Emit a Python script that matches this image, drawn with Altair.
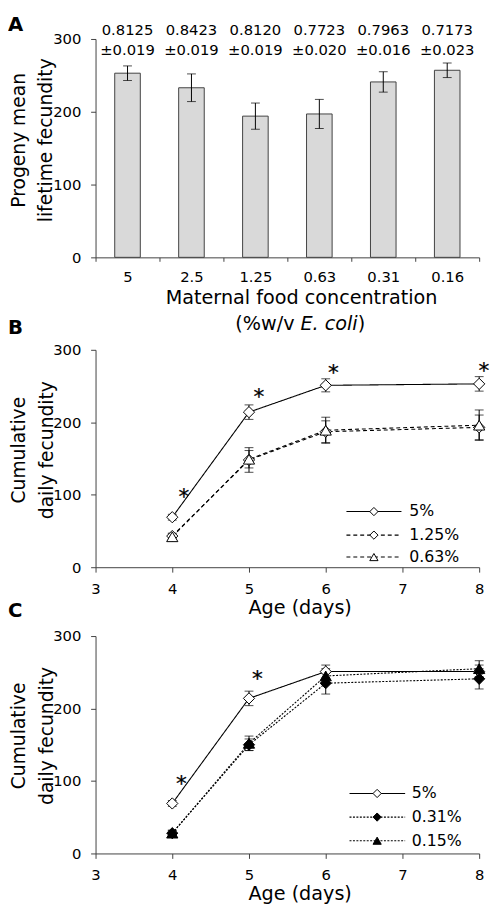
import altair as alt
import pandas as pd

FONT = "DejaVu Sans"
AXIS_COLOR = "#404040"

# ---------------- Panel A data ----------------
concentrations = ["5", "2.5", "1.25", "0.63", "0.31", "0.16"]
lifetime_fecundity = [253, 233, 194, 197, 241, 257]
lifetime_fecundity_se = [10, 19, 18, 20, 14, 10]
survival_mean = ["0.8125", "0.8423", "0.8120", "0.7723", "0.7963", "0.7173"]
survival_se = ["±0.019", "±0.019", "±0.019", "±0.020", "±0.016", "±0.023"]

# ---------------- Panel B data ----------------
ages = [4, 5, 6, 8]
b_series = ["5%", "1.25%", "0.63%"]
b_5 = [69, 214, 251, 253]
b_5_se = [4, 10, 9, 10]
b_125 = [43, 148, 187, 193]
b_125_se = [4, 17, 15, 17]
b_063 = [42, 149, 189, 196]
b_063_se = [4, 12, 18, 21]
b_star_age = [4.15, 5.13, 6.10, 8.06]
b_star_val = [103, 241, 275, 278]

# ---------------- Panel C data ----------------
c_series = ["5%", "0.31%", "0.15%"]
c_5 = [69, 214, 251, 251]
c_5_se = [4, 10, 9, 9]
c_031 = [28, 150, 235, 241]
c_031_se = [4, 8, 15, 14]
c_015 = [28, 152, 245, 255]
c_015_se = [4, 10, 10, 11]
c_star_age = [4.12, 5.11]
c_star_val = [103, 247]

# legend placement (in data units of the panels)
b_leg_x = [6.27, 6.987, 6.628, 7.09]
b_leg_y = [76.8, 44.3, 14.0]
c_leg_x = [6.31, 7.035, 6.67, 7.12]
c_leg_y = [82.8, 50.2, 17.6]


def axis_common(**kw):
    base = dict(
        domainColor=AXIS_COLOR, tickColor=AXIS_COLOR, labelColor="black",
        labelFont=FONT, labelFontSize=15, titleFont=FONT, titleColor="black",
        titleFontWeight="normal", grid=False, labelFlush=False,
        labelOverlap=False, labelBound=False,
    )
    base.update(kw)
    return alt.Axis(**base)


# ================= Panel A =================
dfA = pd.DataFrame({
    "conc": concentrations,
    "mean": lifetime_fecundity,
    "lo": [m - e for m, e in zip(lifetime_fecundity, lifetime_fecundity_se)],
    "hi": [m + e for m, e in zip(lifetime_fecundity, lifetime_fecundity_se)],
    "a1": survival_mean,
    "a2": survival_se,
})

xA_axis = axis_common(labelAngle=0, tickBand="extent", tickSize=4, labelPadding=8.6,
                      title="Maternal food concentration", titleX=209, titleY=41,
                      titleBaseline="middle", titleAlign="center", titleFontSize=19.5)
yA_axis = axis_common(values=[0, 100, 200, 300], tickSize=5, labelPadding=10,
                      title=["Progeny mean", "lifetime fecundity"], titleX=-87, titleY=102.5,
                      titleAngle=270, titleBaseline="top", titleAlign="center",
                      titleFontSize=19, titleLineHeight=27)
xA_scale = alt.Scale(domain=concentrations, paddingInner=0, paddingOuter=0)
yA_scale = alt.Scale(domain=[0, 300], nice=False)


def XA():
    return alt.X("conc:N", sort=concentrations, scale=xA_scale, axis=xA_axis)


def YA(f):
    return alt.Y(f, type="quantitative", scale=yA_scale, axis=yA_axis)


baseA = alt.Chart(dfA)
bars = baseA.mark_bar(fill="#d9d9d9", stroke="#404040", strokeWidth=1, size=26).encode(
    x=XA(), y=YA("mean"))
errA = baseA.mark_rule(color="black", strokeWidth=1).encode(x=XA(), y=YA("lo"), y2="hi:Q")
capA_lo = baseA.mark_tick(color="black", size=9, thickness=1, orient="horizontal").encode(
    x=XA(), y=YA("lo"))
capA_hi = baseA.mark_tick(color="black", size=9, thickness=1, orient="horizontal").encode(
    x=XA(), y=YA("hi"))
annA1 = baseA.mark_text(font=FONT, fontSize=15, baseline="middle", color="black").encode(
    x=XA(), y=alt.value(-9.3), text="a1:N")
annA2 = baseA.mark_text(font=FONT, fontSize=15, baseline="middle", color="black").encode(
    x=XA(), y=alt.value(11.3), text="a2:N")

one = pd.DataFrame({"k": [0]})
labA = alt.Chart(one).mark_text(text="A", font=FONT, fontSize=20, fontWeight="bold",
                                align="left", baseline="top", color="black").encode(
    x=alt.value(-89), y=alt.value(-24))
t2a = alt.Chart(one).mark_text(text="(%w/v", font=FONT, fontSize=19.5, align="right",
                               baseline="middle", color="black").encode(
    x=alt.value(202.3), y=alt.value(289.7))
t2b = alt.Chart(one).mark_text(text="E. coli", font=FONT, fontSize=19.5, fontStyle="italic",
                               align="left", baseline="middle", color="black").encode(
    x=alt.value(208.3), y=alt.value(289.7))
t2c = alt.Chart(one).mark_text(text=")", font=FONT, fontSize=19.5, align="left",
                               baseline="middle", color="black").encode(
    x=alt.value(266.5), y=alt.value(289.7))

panelA = alt.layer(bars, errA, capA_lo, capA_hi, annA1, annA2, labA, t2a, t2b, t2c).properties(
    width=390, height=222)


# ================= Panels B and C =================
def long_df(field, series, means, ses):
    rows = []
    for s, m, e in zip(series, means, ses):
        for a, v, err in zip(ages, m, e):
            rows.append({field: s, "age": a, "val": v, "lo": v - err, "hi": v + err})
    return pd.DataFrame(rows)


def line_panel(field, df, series, shapes, fills, dash_pat, stars_x, stars_y, leg_x, leg_y,
               label, label_y, title_y):
    x_scale = alt.Scale(domain=[3, 8], nice=False)
    y_scale = alt.Scale(domain=[0, 300], nice=False)
    x_axis = axis_common(values=[3, 4, 5, 6, 7, 8], format="d", tickSize=5, labelPadding=9.6,
                         title="Age (days)", titleX=207.5, titleY=41,
                         titleBaseline="middle", titleAlign="center", titleFontSize=19.5)
    y_axis = axis_common(values=[0, 100, 200, 300], tickSize=5, labelPadding=10,
                         title=["Cumulative", "daily fecundity"], titleX=-87, titleY=title_y,
                         titleAngle=270, titleBaseline="top", titleAlign="center",
                         titleFontSize=19, titleLineHeight=28)

    def X(f):
        return alt.X(f, type="quantitative", scale=x_scale, axis=x_axis)

    def Y(f):
        return alt.Y(f, type="quantitative", scale=y_scale, axis=y_axis)

    dash = alt.StrokeDash(f"{field}:N", scale=alt.Scale(domain=series,
                          range=[[1, 0], dash_pat, dash_pat]), legend=None)
    shape = alt.Shape(f"{field}:N", scale=alt.Scale(domain=series, range=shapes), legend=None)
    fill = alt.Fill(f"{field}:N", scale=alt.Scale(domain=series, range=fills), legend=None)

    base = alt.Chart(df)
    err = base.mark_rule(color="black", strokeWidth=1).encode(x=X("age"), y=Y("lo"), y2="hi:Q")
    cap_lo = base.mark_tick(color="black", size=9, thickness=1, orient="horizontal").encode(
        x=X("age"), y=Y("lo"))
    cap_hi = base.mark_tick(color="black", size=9, thickness=1, orient="horizontal").encode(
        x=X("age"), y=Y("hi"))
    lines = base.mark_line(color="black", strokeWidth=1.1).encode(
        x=X("age"), y=Y("val"), detail=f"{field}:N", strokeDash=dash)
    pts = base.mark_point(filled=True, stroke="black", strokeWidth=1, opacity=1, size=130).encode(
        x=X("age"), y=Y("val"), shape=shape, fill=fill)

    star_df = pd.DataFrame({"sx": stars_x, "sy": stars_y})
    stars = alt.Chart(star_df).mark_text(text="*", font=FONT, fontSize=22, baseline="alphabetic",
                                         dy=12, fill="black", stroke="black",
                                         strokeWidth=0.25).encode(x=X("sx"), y=Y("sy"))

    leg_df = pd.DataFrame({
        field: series,
        "lx1": [leg_x[0]] * 3, "lx2": [leg_x[1]] * 3,
        "mx": [leg_x[2]] * 3, "tx": [leg_x[3]] * 3,
        "ly": leg_y,
    })
    leg_base = alt.Chart(leg_df)
    leg_line = leg_base.mark_rule(color="black", strokeWidth=1.1).encode(
        x=X("lx1"), x2="lx2:Q", y=Y("ly"), strokeDash=dash)
    leg_pt = leg_base.mark_point(filled=True, stroke="black", strokeWidth=1, opacity=1,
                                 size=70).encode(x=X("mx"), y=Y("ly"), shape=shape, fill=fill)
    leg_txt = leg_base.mark_text(font=FONT, fontSize=16, align="left", baseline="middle",
                                 color="black").encode(x=X("tx"), y=Y("ly"), text=f"{field}:N")

    lab = alt.Chart(one).mark_text(text=label, font=FONT, fontSize=20, fontWeight="bold",
                                   align="left", baseline="top", color="black").encode(
        x=alt.value(-89), y=alt.value(label_y))

    return alt.layer(err, cap_lo, cap_hi, lines, pts, stars, leg_line, leg_pt, leg_txt,
                     lab).properties(width=390, height=221)


dfB = long_df("seriesB", b_series, [b_5, b_125, b_063], [b_5_se, b_125_se, b_063_se])
dfC = long_df("seriesC", c_series, [c_5, c_031, c_015], [c_5_se, c_031_se, c_015_se])

panelB = line_panel("seriesB", dfB, b_series, ["diamond", "diamond", "triangle-up"],
                    ["white", "white", "white"], [4, 3], b_star_age, b_star_val,
                    b_leg_x, b_leg_y, "B", -32, 101.5)
panelC = line_panel("seriesC", dfC, c_series, ["diamond", "diamond", "triangle-up"],
                    ["white", "black", "black"], [2, 1.5], c_star_age, c_star_val,
                    c_leg_x, c_leg_y, "C", -35, 101)

indep = dict(shape="independent", fill="independent", strokeDash="independent")
lower = alt.vconcat(panelB, panelC, spacing=70, bounds="flush").resolve_scale(**indep)
chart = alt.vconcat(panelA, lower, spacing=94, bounds="flush").resolve_scale(**indep).properties(
    padding=0, background="white"
).configure_view(stroke=None)

chart.save("out.html", embed_options={"renderer": "svg", "actions": False})
